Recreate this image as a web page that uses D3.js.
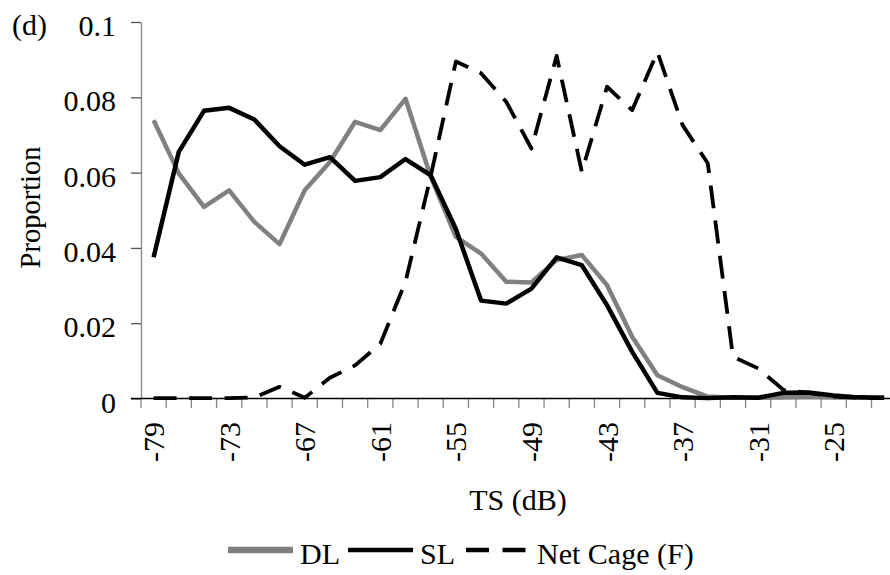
<!DOCTYPE html>
<html>
<head>
<meta charset="utf-8">
<script src="https://cdn.jsdelivr.net/npm/d3@7"></script>
<style>
    body { margin: 0; background: #fff; }
</style>
</head>
<body>
<div id="chart"></div>
<script>
'use strict';

// TS bins (dB), 2 dB wide
var categories = [-79, -77, -75, -73, -71, -69, -67, -65, -63, -61,
                  -59, -57, -55, -53, -51, -49, -47, -45, -43, -41,
                  -39, -37, -35, -33, -31, -29, -27, -25, -23, -21];
var tickLabels = [-79, -73, -67, -61, -55, -49, -43, -37, -31, -25];
var yTicks = [0, 0.02, 0.04, 0.06, 0.08, 0.1];

var dl = [0.0739, 0.0598, 0.0509, 0.0553, 0.0469, 0.0410, 0.0553, 0.0628, 0.0735, 0.0713,
          0.0796, 0.0589, 0.0429, 0.0385, 0.0310, 0.0308, 0.0368, 0.0381, 0.0301, 0.0164,
          0.0062, 0.0030, 0.0005, 0.0002, 0.0002, 0.0003, 0.0005, 0.0003, 0.0002, 0.0002];
var sl = [0.0375, 0.0655, 0.0764, 0.0772, 0.0741, 0.0670, 0.0621, 0.0641, 0.0578, 0.0588,
          0.0636, 0.0593, 0.0450, 0.0260, 0.0252, 0.0292, 0.0375, 0.0354, 0.0248, 0.0124,
          0.0015, 0.0003, 0.0001, 0.0003, 0.0002, 0.0015, 0.0016, 0.0008, 0.0003, 0.0002];
var netCage = [0.0001, 0.0001, 0.0001, 0.0001, 0.0003, 0.0031, 0.0002, 0.0055, 0.0088, 0.0145,
               0.0310, 0.0590, 0.0895, 0.0864, 0.0788, 0.0664, 0.0910, 0.0602, 0.0828, 0.0766,
               0.0920, 0.0726, 0.0625, 0.0111, 0.0080, 0.0023, 0.0015, 0.0005, 0.0002, 0.0001];

var seriesNames = ['DL', 'SL', 'Net Cage (F)'];

var width = 890, height = 575;
var x0 = 141, step = 25.19;
var serif = '"Liberation Serif", "Times New Roman", Times, "DejaVu Serif", serif';

var svg = d3.select('#chart').append('svg')
    .attr('width', width)
    .attr('height', height)
    .style('font-family', serif);

var x = d3.scaleBand()
    .domain(categories)
    .range([x0, x0 + step * categories.length]);

var y = d3.scaleLinear()
    .domain([0, 0.1])
    .range([398.5, 22]);

// y axis
var yAxis = svg.append('g')
    .attr('transform', 'translate(' + x0 + ',0)')
    .call(d3.axisLeft(y)
        .tickValues(yTicks)
        .tickSize(10)
        .tickSizeOuter(0)
        .tickPadding(15)
        .tickFormat(function(d) { return d === 0 ? '0' : d3.format('')(d); }));
yAxis.attr('font-family', null).attr('font-size', null);
yAxis.select('.domain').attr('stroke', '#868686').attr('stroke-width', 1.3);
yAxis.selectAll('.tick line').attr('stroke', '#555').attr('stroke-width', 1.3);
yAxis.selectAll('.tick text')
    .attr('dy', '0.45em')
    .style('font-family', serif)
    .style('font-size', '30px');

// x axis: ticks between categories, labels every third bin
var xg = svg.append('g');
xg.selectAll('line.tick')
    .data(categories.map(function(c) { return x(c); }).concat([x.range()[1]]))
  .enter().append('line')
    .attr('class', 'tick')
    .attr('x1', function(d) { return d; })
    .attr('x2', function(d) { return d; })
    .attr('y1', y(0))
    .attr('y2', y(0) + 9.5)
    .attr('stroke', '#868686')
    .attr('stroke-width', 1.3);
xg.append('line')
    .attr('x1', x0 - 10)
    .attr('x2', x.range()[1])
    .attr('y1', y(0))
    .attr('y2', y(0))
    .attr('stroke', '#000')
    .attr('stroke-width', 1.5);
xg.selectAll('text')
    .data(tickLabels)
  .enter().append('text')
    .attr('transform', function(d) {
        return 'translate(' + (x(d) + x.bandwidth() / 2) + ',422) rotate(-90)';
    })
    .attr('text-anchor', 'end')
    .attr('dy', '0.35em')
    .style('font-size', '30px')
    .text(function(d) { return d; });

// titles
svg.append('text')
    .attr('x', 518)
    .attr('y', 510)
    .attr('text-anchor', 'middle')
    .style('font-size', '30px')
    .text('TS (dB)');

svg.append('text')
    .attr('transform', 'translate(40,207.5) rotate(-90)')
    .attr('text-anchor', 'middle')
    .style('font-size', '28.5px')
    .text('Proportion');

svg.append('text')
    .attr('x', 12)
    .attr('y', 35)
    .style('font-size', '30px')
    .text('(d)');

// lines
var line = d3.line()
    .x(function(d, i) { return x(categories[i]) + x.bandwidth() / 2; })
    .y(function(d) { return y(d); });

var styles = [
    { color: '#808080', width: 4.5, dash: null },
    { color: '#000', width: 4.5, dash: null },
    { color: '#000', width: 3.8, dash: '23,12.5' }
];

svg.selectAll('path.series')
    .data([dl, sl, netCage])
  .enter().append('path')
    .attr('class', 'series')
    .attr('d', line)
    .attr('fill', 'none')
    .attr('stroke', function(d, i) { return styles[i].color; })
    .attr('stroke-width', function(d, i) { return styles[i].width; })
    .attr('stroke-dasharray', function(d, i) { return styles[i].dash; })
    .attr('stroke-linejoin', 'round');

// legend
var legendX = [228, 348, 466];
var lg = svg.selectAll('g.legend')
    .data(seriesNames)
  .enter().append('g')
    .attr('class', 'legend')
    .attr('transform', function(d, i) { return 'translate(' + legendX[i] + ',550)'; });
lg.append('line')
    .attr('x1', 0)
    .attr('x2', function(d, i) { return i === 2 ? 60 : 65; })
    .attr('y1', 0)
    .attr('y2', 0)
    .attr('stroke', function(d, i) { return styles[i].color; })
    .attr('stroke-width', function(d, i) { return i === 0 ? 6.5 : 4.5; })
    .attr('stroke-dasharray', function(d, i) { return i === 2 ? '23,13.5' : null; });
lg.append('text')
    .attr('x', function(d, i) { return i === 2 ? 71 : 72; })
    .attr('y', 13.5)
    .style('font-size', '30px')
    .text(function(d) { return d; });
</script>
</body>
</html>
